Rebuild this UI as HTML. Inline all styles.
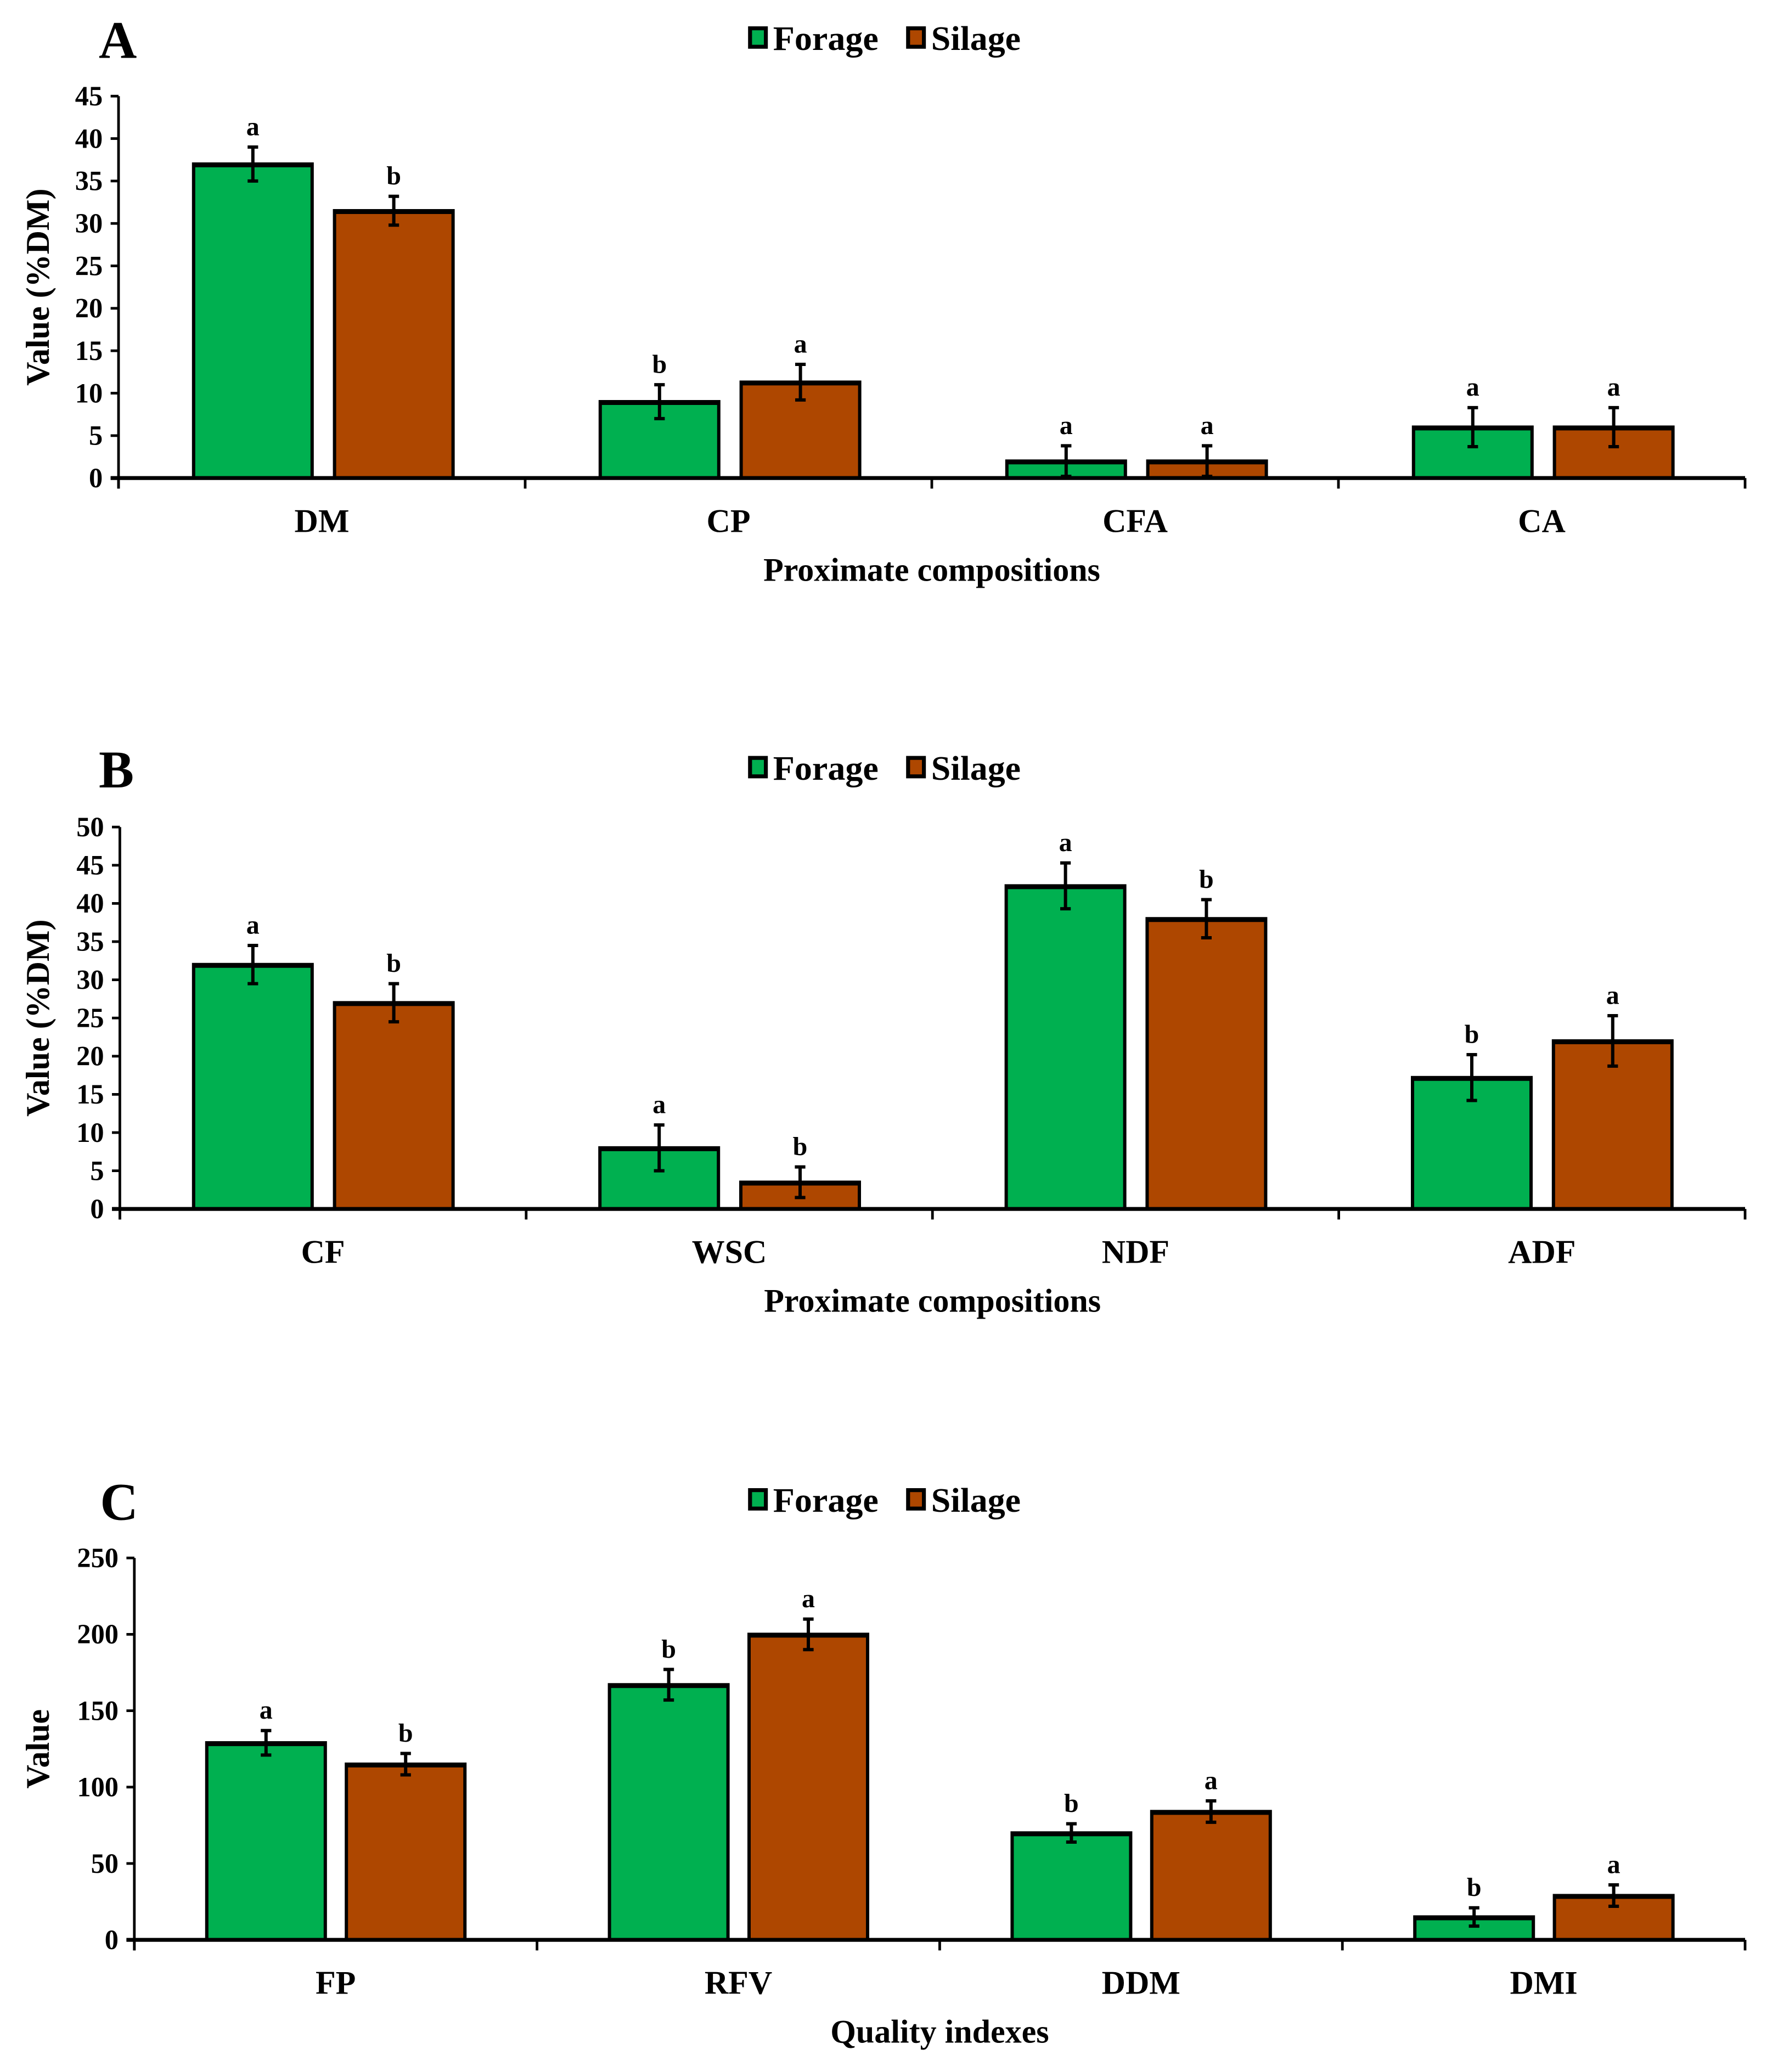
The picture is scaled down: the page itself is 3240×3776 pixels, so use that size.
<!DOCTYPE html>
<html><head><meta charset="utf-8"><style>
html,body{margin:0;padding:0;background:#fff;}
svg{display:block;}
text{font-family:"Liberation Serif",serif;font-weight:bold;fill:#000;}
</style></head>
<body>
<svg id="fig" xmlns="http://www.w3.org/2000/svg" width="3240" height="3776" viewBox="0 0 1350 1573.33"></svg>
<script>
// Panel A data
const catsA = ["DM","CP","CFA","CA"];
const forageA = [37, 9, 2, 6];
const silageA = [31.5, 11.3, 2, 6];
const forageErrA = [2, 2, 1.8, 2.3];
const silageErrA = [1.7, 2.1, 1.8, 2.3];
const forageLetA = ["a","b","a","a"];
const silageLetA = ["b","a","a","a"];
const ticksA = [0,5,10,15,20,25,30,35,40,45];
// Panel B data
const catsB = ["CF","WSC","NDF","ADF"];
const forageB = [32, 8, 42.3, 17.2];
const silageB = [27, 3.5, 38, 22];
const forageErrB = [2.5, 3, 3, 3];
const silageErrB = [2.5, 2, 2.5, 3.3];
const forageLetB = ["a","a","a","b"];
const silageLetB = ["b","b","b","a"];
const ticksB = [0,5,10,15,20,25,30,35,40,45,50];
// Panel C data
const catsC = ["FP","RFV","DDM","DMI"];
const forageC = [129, 167, 70, 15];
const silageC = [115, 200, 84, 29];
const forageErrC = [8, 10, 6, 6];
const silageErrC = [7, 10, 7, 7];
const forageLetC = ["a","b","b","b"];
const silageLetC = ["b","a","a","a"];
const ticksC = [0,50,100,150,200,250];

const NS = "http://www.w3.org/2000/svg";
const svg = document.getElementById("fig");
const GREEN = "#00b050", BROWN = "#ae4700";
function mk(tag, attrs, parent, txt){
  const e = document.createElementNS(NS, tag);
  for (const k in attrs) e.setAttribute(k, attrs[k]);
  if (txt !== undefined) e.textContent = txt;
  (parent || svg).appendChild(e);
  return e;
}

function panel(cfg){
  const g = mk("g", {});
  
  
  const x0 = cfg.x0, x1 = 1325, yTop = cfg.yTop, yZero = cfg.yZero;
  const ymax = cfg.ticks[cfg.ticks.length-1];
  const yS = v => yZero - (v / ymax) * (yZero - yTop);
  const gw = (x1 - x0) / cfg.cats.length;
  const xF = i => x0 + gw * i + cfg.off;
  const bw = 90, gap = cfg.gap;

  const pl = mk("text", {x: cfg.letterX, y: cfg.legY + 15, "font-size": 40}, g, cfg.id);
  
  

  const lg = mk("g", {}, g);
  
  
  const items = [["Forage", GREEN, 568, 80], ["Silage", BROWN, 688, 68]];
  items.forEach(it => {
    const e = mk("g", {}, lg);
    
    
    mk("rect", {x: it[2]+1.5, y: cfg.legY-7.5, width: 12, height: 14, fill: it[1], stroke: "#000", "stroke-width": 3}, e);
    mk("text", {x: it[2]+19, y: cfg.legY+9, "font-size": 26, textLength: it[3], lengthAdjust: "spacingAndGlyphs"}, e, it[0]);
  });

  const series = [[cfg.forage, cfg.fErr, cfg.fLet, GREEN, 0, "forage"], [cfg.silage, cfg.sErr, cfg.sLet, BROWN, bw + gap, "silage"]];
  series.forEach(s => {
    s[0].forEach((v, i) => {
      const x = xF(i) + s[4];
      const r = mk("rect", {x: x, y: yS(v), width: bw, height: yZero - yS(v), fill: s[3], stroke: "#000", "stroke-width": 2.5}, g);
      
      
      mk("line", {x1: x, x2: x + bw, y1: yS(v) + 1, y2: yS(v) + 1, stroke: "#000", "stroke-width": 3}, g);
      const cx = x + bw / 2, hi = yS(v + s[1][i]), lo = yS(Math.max(0, v - s[1][i]));
      const eb = mk("path", {d: `M${cx},${hi}V${lo}M${cx-4},${hi}H${cx+4}M${cx-4},${lo}H${cx+4}`, stroke: "#000", "stroke-width": 2.5, fill: "none"}, g);
      
      
      const lt = mk("text", {x: cx, y: hi - 9, "font-size": 20, "text-anchor": "middle"}, g, s[2][i]);
      
      
    });
  });

  const ya = mk("line", {x1: x0, x2: x0, y1: yTop, y2: yZero + 8, stroke: "#000", "stroke-width": 2}, g);
  
  
  const xa = mk("line", {x1: x0 - 6, x2: x1, y1: yZero, y2: yZero, stroke: "#000", "stroke-width": 3}, g);
  
  
  cfg.ticks.forEach(t => {
    mk("line", {x1: x0 - 6, x2: x0, y1: yS(t), y2: yS(t), stroke: "#000", "stroke-width": 2}, g);
    const tl = mk("text", {x: x0 - 12, y: yS(t) + 7, "font-size": 21, "text-anchor": "end"}, g, t);
    
    
  });
  for (let i = 0; i <= cfg.cats.length; i++) {
    mk("line", {x1: x0 + gw*i, x2: x0 + gw*i, y1: yZero, y2: yZero + 8, stroke: "#000", "stroke-width": 2}, g);
  }
  cfg.cats.forEach((c, i) => {
    const cl = mk("text", {x: x0 + gw*(i+0.5), y: yZero + 41, "font-size": 25, "text-anchor": "middle"}, g, c);
    
    
  });
  const xt = mk("text", {x: (x0 + x1) / 2, y: yZero + 78, "font-size": 25, "text-anchor": "middle"}, g, cfg.xTitle);
  
  
  const ym = (yTop + yZero) / 2;
  const yt = mk("text", {x: 0, y: 0, "font-size": 25, "text-anchor": "middle", fill: "#3a1a1a", transform: `translate(37,${ym}) rotate(-90)`}, g, cfg.yTitle);
  
  
}

panel({id:"A", x0:90, yTop:73, yZero:363, off:57, gap:17, legY:29, letterX:75, cats:catsA, forage:forageA, silage:silageA, fErr:forageErrA, sErr:silageErrA, fLet:forageLetA, sLet:silageLetA, ticks:ticksA, xTitle:"Proximate compositions", yTitle:"Value (%DM)"});
panel({id:"B", x0:91, yTop:628, yZero:918, off:56, gap:17, legY:583, letterX:75, cats:catsB, forage:forageB, silage:silageB, fErr:forageErrB, sErr:silageErrB, fLet:forageLetB, sLet:silageLetB, ticks:ticksB, xTitle:"Proximate compositions", yTitle:"Value (%DM)"});
panel({id:"C", x0:102, yTop:1183, yZero:1473, off:55, gap:16, legY:1139, letterX:76, cats:catsC, forage:forageC, silage:silageC, fErr:forageErrC, sErr:silageErrC, fLet:forageLetC, sLet:silageLetC, ticks:ticksC, xTitle:"Quality indexes", yTitle:"Value"});
</script>
</body></html>
